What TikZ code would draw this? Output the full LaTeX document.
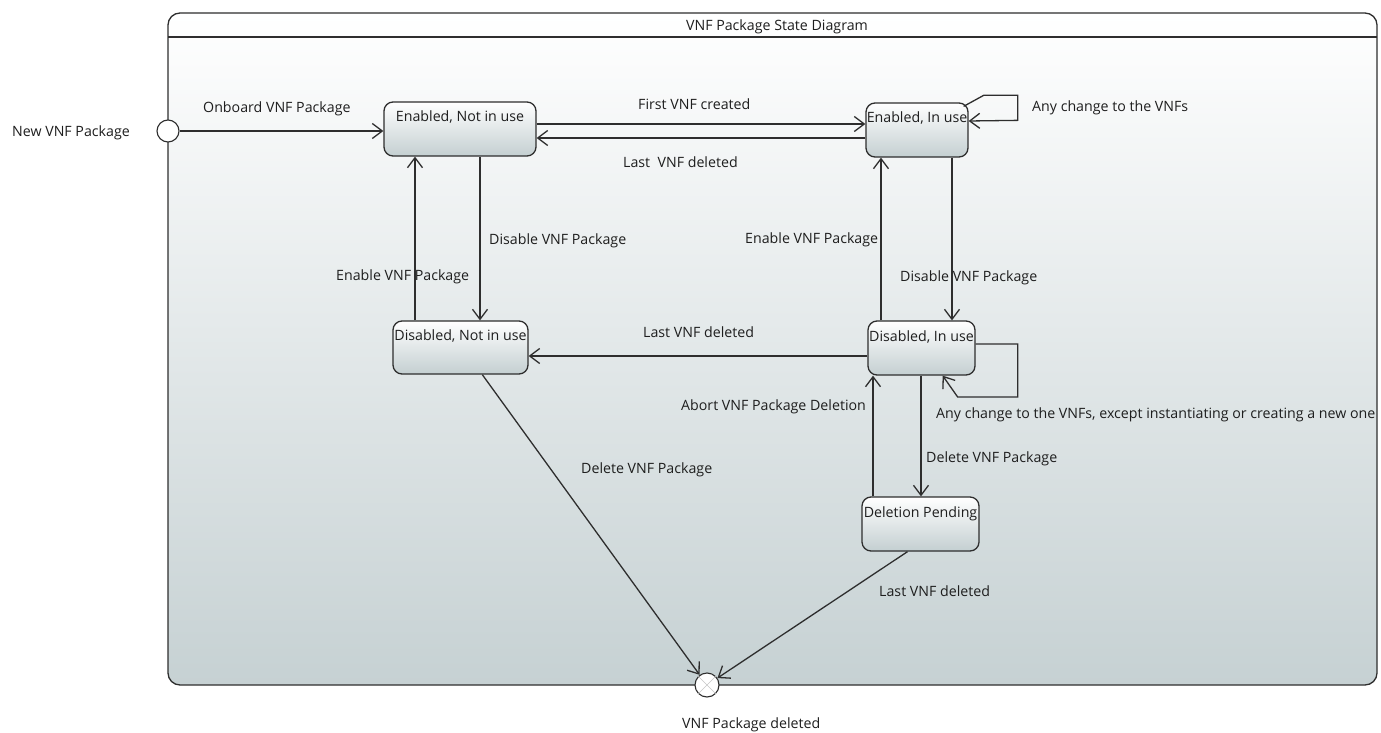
\documentclass[tikz,border=0pt]{standalone}
\usepackage{fontspec}
\setmainfont{Open Sans}
\usetikzlibrary{arrows.meta,calc}
\definecolor{edge}{HTML}{2E2E2E}
\definecolor{shadebot}{HTML}{C4CFD1}
\definecolor{framebot}{HTML}{C6D1D3}
\definecolor{txt}{HTML}{1E1E1E}
\begin{document}
\begin{tikzpicture}[x=1pt,y=-1pt, font=\fontsize{14.2}{16}\selectfont,
  state/.style={draw=edge, line width=1.3pt, rounded corners=9pt, top color=white, bottom color=shadebot,
    inner sep=0pt, text height=18pt, text depth=32pt, align=center, text=txt},
  arr/.style={draw=edge, line width=1.3pt, -{Straight Barb[length=10pt,width=15pt,line width=1.3pt]}},
  plain/.style={draw=edge, line width=1.3pt},
  lbl/.style={inner sep=0pt, text=txt, anchor=west},
  pseudo/.style={circle, draw=edge, fill=white, line width=1.1pt, inner sep=0pt}]
\useasboundingbox (0,0) rectangle (1381,733);
% frame
\path[rounded corners=12pt, top color=white, bottom color=framebot] (168,13) rectangle (1377,685);
\draw[plain, rounded corners=12pt] (168,13) rectangle (1377,685);
\draw[plain] (168,37) -- (1377,37);
\node[inner sep=0pt, text=txt] (title) at (777,27) {VNF Package State Diagram};

% states
\node[state, minimum width=152pt, minimum height=54pt] (enu) at (460,129) {Enabled, Not in use};
\node[state, minimum width=102pt, minimum height=54pt] (eiu) at (917,130) {Enabled, In use};
\node[state, minimum width=135pt, minimum height=53pt] (dnu) at (460.5,347.5) {Disabled, Not in use};
\node[state, minimum width=107pt, minimum height=54pt] (diu) at (921.5,348) {Disabled, In use};
\node[state, minimum width=117pt, minimum height=54pt] (dp) at (920.5,524) {Deletion Pending};

% pseudo states
\node[pseudo, minimum size=22pt] (init) at (168,131) {};
\node[pseudo, minimum size=24pt] (fin) at (707,685) {};
\draw[gray!45, line width=0.6pt] (fin.north west) -- (fin.south east) (fin.north east) -- (fin.south west);

% helper coordinates
\coordinate (xa) at (415,0);
\coordinate (xb) at (480,0);
\coordinate (xc) at (881,0);
\coordinate (xd) at (952,0);
\coordinate (xe) at (873,0);
\coordinate (xf) at (921,0);
\coordinate (ya) at (0,124);
\coordinate (yb) at (0,138);
\coordinate (yc) at (0,356);

% connectors
\draw[arr] (init.east) -- (init.east -| enu.west);
\draw[arr] (enu.east |- ya) -- (eiu.west |- ya);
\draw[arr] (eiu.west |- yb) -- (enu.east |- yb);
\draw[arr] ($(eiu.north east)+(-5,4)$) -- ++(20,-11) -- ++(34,0) -- ++(0,25) -- ($(eiu.east)+(0,-9)$);
\draw[arr] (enu.south -| xb) -- (dnu.north -| xb);
\draw[arr] (dnu.north -| xa) -- (enu.south -| xa);
\draw[arr] (eiu.south -| xd) -- (diu.north -| xd);
\draw[arr] (diu.north -| xc) -- (eiu.south -| xc);
\draw[arr] (diu.west |- yc) -- (dnu.east |- yc);
\draw[arr] ($(diu.east)+(0,-4)$) -- ++(42,0) -- ++(0,53) -- ++(-60,0) -- ($(diu.south east)+(-33,0)$);
\draw[arr] (diu.south -| xf) -- (dp.north -| xf);
\draw[arr] (dp.north -| xe) -- (diu.south -| xe);
\draw[arr] ($(dnu.south west)!0.66!(dnu.south east)$) -- (fin);
\draw[arr] ($(dp.south west)!0.39!(dp.south east)$) -- (fin);

% labels
\node[lbl] (l1) at (12,133) {New VNF Package};
\node[lbl] (l2) at (203,109) {Onboard VNF Package};
\node[lbl] (l3) at (638,104) {First VNF created};
\node[lbl] (l4) at (623,162) {Last\ \ VNF deleted};
\node[lbl] (l5) at (1032,108) {Any change to the VNFs};
\node[lbl] (l6) at (489,241) {Disable VNF Package};
\node[lbl] (l7) at (336,277) {Enable VNF Package};
\node[lbl] (l8) at (745,240) {Enable VNF Package};
\node[lbl] (l9) at (900,278) {Disable VNF Package};
\node[lbl] (l10) at (643,332) {Last VNF deleted};
\node[lbl] (l11) at (681,407) {Abort VNF Package Deletion};
\node[lbl] (l12) at (581,470) {Delete VNF Package};
\node[lbl] (l13) at (926,459) {Delete VNF Package};
\node[lbl] (l14) at (936,415) {Any change to the VNFs, except instantiating or creating a new one};
\node[lbl] (l15) at (879,591) {Last VNF deleted};
\node[lbl] (l16) at (682,725) {VNF Package deleted};
\end{tikzpicture}
\end{document}
